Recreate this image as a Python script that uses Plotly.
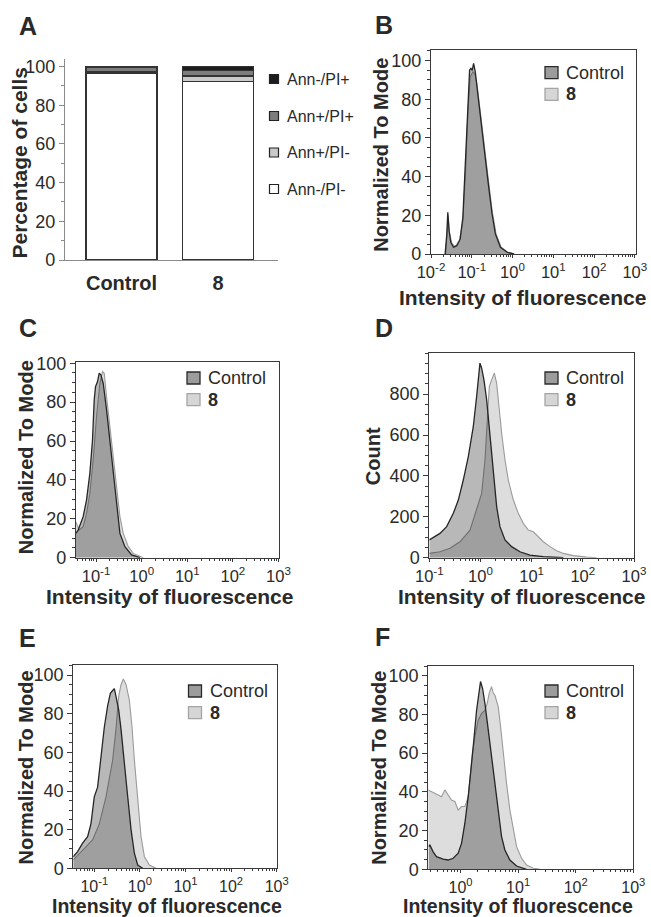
import numpy as np
import plotly.graph_objects as go

# ---------------- data ----------------
categories = ["Control", "8"]
ann_neg_pi_neg = [96.5, 92.3]
ann_pos_pi_neg = [0.7, 2.8]
ann_pos_pi_pos = [2.5, 2.9]
ann_neg_pi_pos = [0.3, 2.0]
stack_names = ["Ann-/PI-", "Ann+/PI-", "Ann+/PI+", "Ann-/PI+"]

# histogram panels: log10(intensity) and normalised / count values
b_ctrl_log = [-1.654, -1.613, -1.588, -1.556, -1.514, -1.449, -1.366, -1.284, -1.218, -1.160, -1.103, -1.053, -1.021,
              -0.988, -0.955, -0.914, -0.872, -0.807, -0.749, -0.667, -0.584, -0.502, -0.420, -0.296, -0.132, 0.033]
b_ctrl_y = [0, 10, 21.6, 12, 6, 3.5, 4.3, 7.8, 19, 45, 76, 95.2, 96, 95, 98.6, 94.3, 86.5, 74.4, 62.3, 48.4, 34.6,
            20.8, 10.4, 3.5, 0.9, 0]
b_t8_log = [-1.638, -1.605, -1.58, -1.547, -1.49, -1.407, -1.30, -1.218, -1.152, -1.095, -1.037, -0.971, -0.922,
            -0.872, -0.807, -0.741, -0.658, -0.576, -0.494, -0.403, -0.28, -0.115, 0.05]
b_t8_y = [0, 9.5, 20, 11, 5.5, 3.8, 7, 17, 43, 72.7, 91.7, 94.3, 93, 88, 76, 63, 49.3, 35.5, 21.6, 10.4, 3.5, 0.9, 0]

c_ctrl_log = [-1.444, -1.393, -1.283, -1.209, -1.136, -1.078, -1.041, -1.012, -0.968, -0.931, -0.895, -0.843,
              -0.770, -0.697, -0.623, -0.550, -0.477, -0.367, -0.220, -0.037]
c_ctrl_y = [12.5, 14.2, 21.1, 29.7, 43.4, 60.5, 81.1, 88, 90.6, 94.9, 94, 89.7, 76, 60.5, 43.4, 26.2, 12.5, 5.7,
            1.4, 0]
c_t8_log = [-1.444, -1.371, -1.283, -1.209, -1.136, -1.063, -0.99, -0.916, -0.858, -0.821, -0.770, -0.697, -0.623,
            -0.550, -0.477, -0.404, -0.294, -0.184, 0.036]
c_t8_y = [18.5, 14.2, 16, 22.8, 33.1, 50.3, 72.6, 89.7, 95.7, 94.9, 82.8, 67.4, 50.3, 33.1, 21.1, 12.5, 5.7, 2.2, 0]

d_ctrl_log = [-1.0, -0.922, -0.792, -0.661, -0.531, -0.433, -0.336, -0.238, -0.140, -0.075, -0.029, -0.010, 0.023,
              0.068, 0.121, 0.186, 0.251, 0.316, 0.381, 0.479, 0.609, 0.772, 0.967, 1.228, 1.619]
d_ctrl_y = [87, 100, 119, 152, 217, 282, 380, 495, 642, 789, 887, 952, 927, 870, 772, 609, 413, 250, 152, 87, 54, 29,
            13, 5, 0]
d_t8_log = [-1.0, -0.792, -0.596, -0.401, -0.205, 0.023, 0.088, 0.134, 0.173, 0.218, 0.270, 0.316, 0.362, 0.414,
            0.479, 0.544, 0.642, 0.739, 0.837, 0.935, 1.033, 1.130, 1.228, 1.358, 1.489, 1.619, 1.814, 2.075, 2.270]
d_t8_y = [21, 29, 46, 78, 135, 315, 478, 707, 838, 870, 903, 854, 723, 609, 478, 380, 282, 217, 168, 135, 127, 103,
          78, 54, 34, 21, 10, 3, 0]

e_ctrl_log = [-1.462, -1.366, -1.256, -1.146, -1.073, -1.0, -0.927, -0.853, -0.780, -0.707, -0.648, -0.597, -0.560,
              -0.524, -0.465, -0.414, -0.341, -0.267, -0.194, -0.121, -0.048, 0.062]
e_ctrl_y = [6, 8.6, 13, 16.4, 23, 37, 42, 58, 73, 84, 90.5, 92, 93, 89, 82, 72, 56, 37, 20, 7.8, 1.7, 0]
e_t8_log = [-1.462, -1.256, -1.037, -0.890, -0.743, -0.597, -0.524, -0.465, -0.414, -0.363, -0.303, -0.231, -0.172,
            -0.121, -0.048, 0.025, 0.099, 0.209, 0.356]
e_t8_y = [4.3, 9.5, 14.7, 23, 37, 56, 72, 89, 95, 98, 95, 87, 73, 56, 34, 16.4, 6, 1.7, 0]

f_ctrl_log = [-0.551, -0.534, -0.476, -0.418, -0.302, -0.215, -0.128, -0.041, 0.017, 0.075, 0.133, 0.191, 0.231,
              0.278, 0.318, 0.347, 0.382, 0.423, 0.481, 0.539, 0.597, 0.654, 0.712, 0.770, 0.857, 0.973, 1.147]
f_ctrl_y = [11.7, 12.6, 9, 6.5, 5.2, 4.8, 5.7, 8.3, 13.4, 23.8, 37.5, 53, 66.8, 82, 92.6, 97, 93.5, 85.7, 72, 58,
            42.7, 29, 16.9, 10, 4.8, 1.7, 0]
f_t8_log = [-0.563, -0.505, -0.447, -0.389, -0.331, -0.273, -0.215, -0.157, -0.099, -0.041, 0.017, 0.075, 0.133,
            0.162, 0.208, 0.249, 0.307, 0.365, 0.423, 0.463, 0.498, 0.538, 0.567, 0.596, 0.625, 0.654, 0.695, 0.741,
            0.799, 0.857, 0.915, 0.973, 1.060, 1.147, 1.263, 1.379]
f_t8_y = [41, 40, 39, 38.4, 37.5, 41, 38.4, 35.8, 35, 30.6, 32.4, 32.4, 37.5, 47.8, 60, 68.5, 77, 80.5, 82, 85.7, 91,
          94.3, 91, 90, 87.4, 84, 73.7, 60, 44.4, 30.6, 20.3, 11.7, 5.7, 2.2, 0.5, 0]

decade_vals = [0.01, 0.1, 1, 10, 100, 1000]
decade_text = ["10<sup>-2</sup>", "10<sup>-1</sup>", "10<sup>0</sup>", "10<sup>1</sup>", "10<sup>2</sup>",
               "10<sup>3</sup>"]
norm_ticks = [0, 20, 40, 60, 80, 100]
count_ticks = [0, 200, 400, 600, 800]
pct_ticks = [0, 20, 40, 60, 80, 100]
series_names = ["Control", "8"]

# ---------------- styling / layout helpers ----------------
W, H = 651, 917
FONT = "Liberation Sans, Arial, sans-serif"
TXT = "#2a2a2a"
AXC = "#3a3a3a"


def fx(p):
    return p / W


def fy(p):
    return 1 - p / H


fig = go.Figure()
layout = dict(width=W, height=H, margin=dict(l=0, r=0, t=0, b=0, pad=0, autoexpand=False),
              paper_bgcolor="white", plot_bgcolor="white", showlegend=False, barmode="stack",
              font=dict(family=FONT, color=TXT))
annotations = []
shapes = []

# ---------------- Panel A: stacked bars ----------------
bar_colors = ["#ffffff", "#c9c9c9", "#7d7d7d", "#1c1c1c"]
for name, vals, col in zip(stack_names, [ann_neg_pi_neg, ann_pos_pi_neg, ann_pos_pi_pos, ann_neg_pi_pos], bar_colors):
    fig.add_trace(go.Bar(x=categories, y=vals, name=name, width=0.736, marker=dict(color=col,
                         line=dict(color="#333333", width=1.3)), xaxis="x", yaxis="y"))
layout["xaxis"] = dict(domain=[fx(65), fx(278)], anchor="y", range=[-0.585, 1.62], type="category",
                       showline=True, linecolor="#8a8a8a", linewidth=1.2, ticks="outside", ticklen=5,
                       tickcolor="rgba(0,0,0,0)", tickfont=dict(size=20, weight="bold", color=TXT, family=FONT),
                       showgrid=False, zeroline=False, automargin=False)
layout["yaxis"] = dict(domain=[fy(260), fy(59.3)], anchor="x", range=[0, 103.8], tickvals=pct_ticks,
                       showline=True, linecolor="#8a8a8a", linewidth=1.2, ticks="outside", ticklen=5,
                       tickcolor="#8a8a8a", tickfont=dict(size=18, color=TXT, family=FONT),
                       minor=dict(ticks="outside", ticklen=3, tickcolor="#8a8a8a", dtick=10),
                       showgrid=False, zeroline=False, automargin=False)
# legend A
legA_rows = [79, 116, 152.5, 189]
for name, col, yc in zip(stack_names[::-1], bar_colors[::-1], legA_rows):
    shapes.append(dict(type="rect", xref="paper", yref="paper", x0=fx(269.5), x1=fx(278.5), y0=fy(yc + 4.5),
                       y1=fy(yc - 4.5), fillcolor=col, line=dict(color="#222222", width=1.2)))
    annotations.append(dict(text=name, x=fx(285), y=fy(yc), xref="paper", yref="paper", xanchor="left",
                            yanchor="middle", showarrow=False, font=dict(size=16, color=TXT, family=FONT)))
annotations.append(dict(text="<b>Percentage of cells</b>", x=fx(19.5), y=fy(163), xref="paper", yref="paper",
                        textangle=-90, showarrow=False, xanchor="center", yanchor="middle",
                        font=dict(size=21, color=TXT, family=FONT)))

# ---------------- Histogram panels ----------------
panels = [
    dict(letter="B", idx=2, box=(431, 636, 50, 254), xr=[-2, 3.03], yr=[0, 105.5], yt=norm_ticks, minor=5,
         ytitle="Normalized To Mode", ctrl=(b_ctrl_log, b_ctrl_y), t8=(b_t8_log, b_t8_y),
         leg=(545, 66.7), ytx=380.8, yty=155, xtx=522, xty=297, xts=21, tfs=16.5, let=(373, 25), xt=decade_vals),
    dict(letter="C", idx=3, box=(76, 278.5, 361.7, 557.7), xr=[-1.44, 3.0], yr=[0, 100.8], yt=norm_ticks, minor=5,
         ytitle="Normalized To Mode", ctrl=(c_ctrl_log, c_ctrl_y), t8=(c_t8_log, c_t8_y),
         leg=(187, 372), ytx=25.8, yty=457.5, xtx=169, xty=596, xts=21, tfs=16.5, let=(17, 328),
         xt=decade_vals[1:]),
    dict(letter="D", idx=4, box=(429.3, 634, 353.3, 557.7), xr=[-1, 3], yr=[0, 1000], yt=count_ticks, minor=50,
         ytitle="Count", ctrl=(d_ctrl_log, d_ctrl_y), t8=(d_t8_log, d_t8_y),
         leg=(545, 372), ytx=372.5, yty=456.7, xtx=521.7, xty=596, xts=21, tfs=16.5, let=(373, 328),
         xt=decade_vals[1:]),
    dict(letter="E", idx=5, box=(73.3, 276.7, 665, 868.3), xr=[-1.46, 3], yr=[0, 105.2], yt=norm_ticks, minor=5,
         ytitle="Normalized To Mode", ctrl=(e_ctrl_log, e_ctrl_y), t8=(e_t8_log, e_t8_y),
         leg=(188.5, 685), ytx=25, yty=767.5, xtx=166.7, xty=905.5, xts=19.5, tfs=16, let=(17, 637.5),
         xt=decade_vals[1:]),
    dict(letter="F", idx=6, box=(428.3, 633.3, 666, 869.3), xr=[-0.56, 3], yr=[0, 105], yt=norm_ticks, minor=5,
         ytitle="Normalized To Mode", ctrl=(f_ctrl_log, f_ctrl_y), t8=(f_t8_log, f_t8_y),
         leg=(545, 685), ytx=378.3, yty=767.5, xtx=518.3, xty=905.5, xts=19.5, tfs=16, let=(373, 637),
         xt=decade_vals[2:]),
]

CTRL_FILL = "rgba(0,0,0,0.28)"
T8_FILL = "rgba(0,0,0,0.135)"
CTRL_LINE = "#262626"
T8_LINE = "#9a9a9a"

for p in panels:
    i = p["idx"]
    xa, ya = f"x{i}", f"y{i}"
    l, r, t, b = p["box"]
    fig.add_trace(go.Scatter(x=10 ** np.array(p["t8"][0]), y=p["t8"][1], mode="lines", fill="tozeroy",
                             fillcolor=T8_FILL, line=dict(color=T8_LINE, width=1.1), name=series_names[1],
                             xaxis=xa, yaxis=ya))
    fig.add_trace(go.Scatter(x=10 ** np.array(p["ctrl"][0]), y=p["ctrl"][1], mode="lines", fill="tozeroy",
                             fillcolor=CTRL_FILL, line=dict(color=CTRL_LINE, width=1.3), name=series_names[0],
                             xaxis=xa, yaxis=ya))
    ttext = [decade_text[decade_vals.index(v)] for v in p["xt"]]
    layout[f"xaxis{i}"] = dict(domain=[fx(l), fx(r)], anchor=ya, type="log", range=p["xr"], tickvals=p["xt"],
                               ticktext=ttext, showline=True, mirror=True, linecolor=AXC, linewidth=1.1,
                               ticks="outside", ticklen=3, tickcolor=AXC,
                               minor=dict(ticks="outside", ticklen=2, tickcolor=AXC, dtick="D1"),
                               tickfont=dict(size=p["tfs"], color=TXT, family=FONT), showgrid=False,
                               zeroline=False, automargin=False)
    layout[f"yaxis{i}"] = dict(domain=[fy(b), fy(t)], anchor=xa, range=p["yr"], tickvals=p["yt"],
                               showline=True, mirror=True, linecolor=AXC, linewidth=1.1, ticks="outside",
                               ticklen=5, tickcolor=AXC,
                               minor=dict(ticks="outside", ticklen=3, tickcolor=AXC, dtick=p["minor"]),
                               tickfont=dict(size=18, color=TXT, family=FONT), showgrid=False, zeroline=False,
                               automargin=False)
    # legend keys
    lx, ly = p["leg"]
    for k, (fill, lc, lab) in enumerate([("#9c9c9c", "#2a2a2a", "Control"), ("#d6d6d6", "#a5a5a5", "<b>8</b>")]):
        yy = ly + k * 21.7
        shapes.append(dict(type="rect", xref="paper", yref="paper", x0=fx(lx), x1=fx(lx + 13), y0=fy(yy + 12),
                           y1=fy(yy), fillcolor=fill, line=dict(color=lc, width=1.3)))
        annotations.append(dict(text=lab, x=fx(lx + 19), y=fy(yy + 6), xref="paper", yref="paper",
                                xanchor="left", yanchor="middle", showarrow=False,
                                font=dict(size=18, color=TXT, family=FONT)))
    annotations.append(dict(text=f"<b>{p['ytitle']}</b>", x=fx(p["ytx"]), y=fy(p["yty"]), xref="paper",
                            yref="paper", textangle=-90, showarrow=False, xanchor="center", yanchor="middle",
                            font=dict(size=20, color=TXT, family=FONT)))
    annotations.append(dict(text="<b>Intensity of fluorescence</b>", x=fx(p["xtx"]), y=fy(p["xty"]),
                            xref="paper", yref="paper", showarrow=False, xanchor="center", yanchor="middle",
                            font=dict(size=p["xts"], color=TXT, family=FONT)))
    annotations.append(dict(text=f"<b>{p['letter']}</b>", x=fx(p["let"][0]), y=fy(p["let"][1]), xref="paper",
                            yref="paper", showarrow=False, xanchor="left", yanchor="middle",
                            font=dict(size=25, color=TXT, family=FONT)))

annotations.append(dict(text="<b>A</b>", x=fx(17), y=fy(26), xref="paper", yref="paper", showarrow=False,
                        xanchor="left", yanchor="middle", font=dict(size=25, color=TXT, family=FONT)))

layout["annotations"] = annotations
layout["shapes"] = shapes
fig.update_layout(**layout)
fig.write_html("out.html", config={"displayModeBar": False},
               post_script="document.body.style.margin='0';document.body.style.overflow='hidden';")
